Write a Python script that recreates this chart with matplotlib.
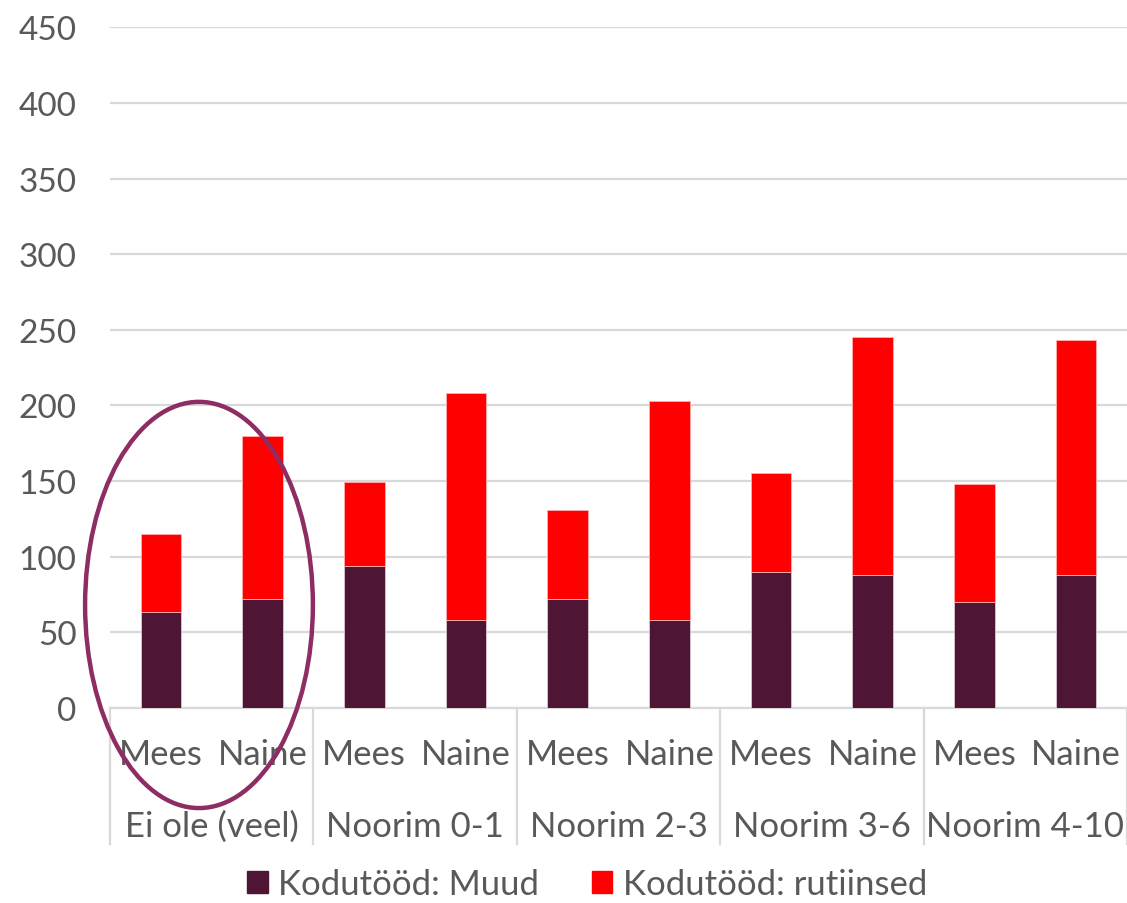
import numpy as np
import matplotlib.pyplot as plt
from matplotlib.patches import Ellipse, Patch

plt.rcParams['font.family'] = ['Lato', 'DejaVu Sans']

# data
groups = ['Ei ole (veel)', 'Noorim 0-1', 'Noorim 2-3', 'Noorim 3-6', 'Noorim 4-10']
sexes = ['Mees', 'Naine']
muud = [63, 72, 94, 58, 72, 58, 90, 88, 70, 88]
rutiinsed_total = [115, 180, 149, 208, 131, 203, 155, 245, 148, 243]
rutiinsed = [t - m for t, m in zip(rutiinsed_total, muud)]

dark = '#4E1535'
red = '#FF0000'
txt = '#595959'
grid = '#D9D9D9'
fs = 25

fig = plt.figure(figsize=(11.27, 9.04), dpi=100)
ax = fig.add_axes([110 / 1127, 1 - 708.7 / 904, 1017 / 1127, 680.4 / 904])

x = np.arange(len(muud))
ax.bar(x, muud, width=0.4, color=dark, edgecolor='#d8c8d0', linewidth=0.6, zorder=3)
ax.bar(x, rutiinsed, width=0.4, bottom=muud, color=red, edgecolor='#ffb0b0', linewidth=0.6, zorder=3)

ax.set_xlim(-0.5, len(muud) - 0.5)
ax.set_ylim(0, 450)
ax.set_yticks(np.arange(0, 451, 50))
ax.yaxis.grid(True, color=grid, linewidth=1.6, zorder=0)
ax.tick_params(axis='y', length=0, pad=24, labelsize=24, labelcolor=txt)
ax.set_xticks([])
for s in ['top', 'right', 'left']:
    ax.spines[s].set_visible(False)
ax.spines['bottom'].set_color(grid)
ax.spines['bottom'].set_linewidth(1.6)

# two-level category axis
for i in x:
    ax.text(i, -0.068, sexes[i % 2], transform=ax.get_xaxis_transform(),
            ha='center', va='center', fontsize=fs, color=txt)
for g, name in enumerate(groups):
    ax.text(2 * g + 0.5, -0.174, name, transform=ax.get_xaxis_transform(),
            ha='center', va='center', fontsize=fs, color=txt)
for b in np.arange(-0.5, len(muud), 2):
    ax.plot([b, b], [0, -0.2], transform=ax.get_xaxis_transform(),
            color=grid, linewidth=1.6, clip_on=False)

# highlight ring round the first group
ax.add_patch(Ellipse((0.0875, 0.151), 0.224, 0.597, transform=ax.transAxes,
                     fill=False, edgecolor='#8E2D63', linewidth=3.2, clip_on=False, zorder=5))

handles = [Patch(color=dark, label='Kodutööd: Muud'),
           Patch(color=red, label='Kodutööd: rutiinsed')]
fig.legend(handles=handles, loc='center', bbox_to_anchor=(0.521, 0.021), ncol=2,
           frameon=False, fontsize=fs, labelcolor=txt, handlelength=0.6, handleheight=0.6,
           handletextpad=0.3, columnspacing=1.5)

fig.savefig('out.png', dpi=100)
